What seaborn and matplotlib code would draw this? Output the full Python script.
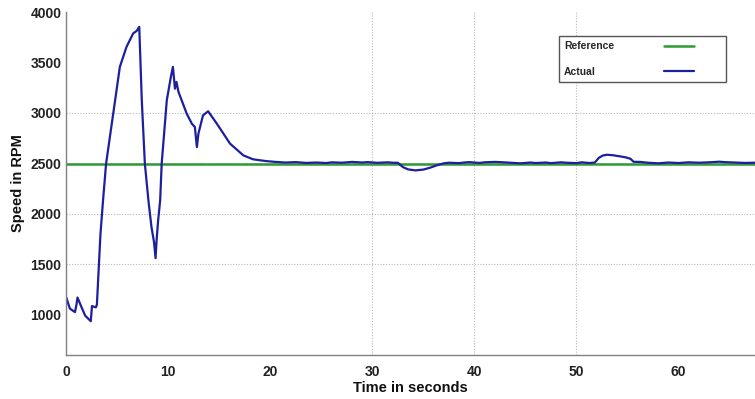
import pandas as pd
import seaborn as sns
from matplotlib import pyplot as plt

# speed response (time in s, speed in RPM)
t_actual = [0.0, 0.35, 0.85, 1.0, 1.1, 1.5, 1.85, 2.4, 2.52, 2.9, 3.0, 3.1, 3.2,
            3.35, 3.6, 3.9, 4.6, 5.25, 5.9, 6.55, 6.9, 7.15, 7.4, 7.7, 8.05, 8.35,
            8.6, 8.75, 8.85, 9.0, 9.2, 9.35, 9.85, 10.25, 10.45, 10.65, 10.8, 11.0,
            11.8, 12.3, 12.6, 12.8, 12.95, 13.4, 13.9, 14.75, 16.05, 17.35, 18.3,
            19.0, 19.6, 20.5, 21.5, 22.5, 23.5, 24.5, 25.5, 26.0, 27.0, 28.0, 29.0,
            29.5, 30.5, 31.5, 32.0, 32.5, 33.0, 33.5, 34.2, 35.0, 35.7, 36.3, 37.0,
            37.5, 38.5, 39.0, 39.5, 40.5, 41.0, 42.0, 42.5, 43.5, 44.5, 45.5, 46.0,
            47.0, 47.5, 48.5, 49.0, 50.0, 50.5, 51.3, 51.8, 52.2, 52.6, 53.0, 53.6,
            54.2, 54.8, 55.3, 55.6, 56.2, 57.0, 58.0, 59.0, 60.0, 61.0, 62.0, 63.0,
            64.0, 64.5, 65.5, 66.5, 67.5]
rpm_actual = [1170, 1060, 1025, 1100, 1170, 1072, 990, 935, 1085, 1072, 1100, 1300, 1500,
              1800, 2130, 2497, 2993, 3456, 3654, 3787, 3813, 3853, 3125, 2497, 2132, 1867,
              1718, 1560, 1735, 1933, 2132, 2497, 3125, 3357, 3456, 3240, 3307, 3207,
              2993, 2894, 2860, 2661, 2795, 2976, 3016, 2894, 2695, 2579, 2540,
              2530, 2522, 2514, 2508, 2512, 2504, 2508, 2503, 2510, 2506, 2514, 2508,
              2512, 2505, 2510, 2506, 2505, 2462, 2440, 2430, 2438, 2458, 2480, 2500,
              2506, 2502, 2508, 2512, 2504, 2510, 2514, 2512, 2506, 2500, 2508, 2503,
              2508, 2502, 2510, 2506, 2502, 2510, 2503, 2508, 2555, 2578, 2585, 2580,
              2570, 2560, 2545, 2515, 2514, 2506, 2500, 2508, 2503, 2510, 2506, 2510,
              2516, 2512, 2508, 2504, 2506]

t_reference = [0.0, 67.5]
rpm_reference = [2492, 2492]

x_ticks = [0, 10, 20, 30, 40, 50, 60]
y_ticks = [1000, 1500, 2000, 2500, 3000, 3500, 4000]
grid_x = [30, 40, 50]
grid_y = [1500, 2000, 2500, 3000]

sns.set_style("white")
plt.rcParams['font.family'] = ['Liberation Sans', 'DejaVu Sans']
plt.rcParams['xtick.direction'] = 'in'
plt.rcParams['ytick.direction'] = 'in'

fig = plt.figure(figsize=(7.55, 3.99), dpi=100)
ax = fig.add_axes([0.0878, 0.1103, 0.9122, 0.8596])

for gx in grid_x:
    ax.axvline(gx, color="#b8b8b8", linestyle=(0, (1, 1.5)), linewidth=0.8, zorder=0)
for gy in grid_y:
    ax.axhline(gy, color="#b8b8b8", linestyle=(0, (1, 1.5)), linewidth=0.8, zorder=0)

ref_df = pd.DataFrame({"t": t_reference, "rpm": rpm_reference})
act_df = pd.DataFrame({"t": t_actual, "rpm": rpm_actual})
sns.lineplot(data=ref_df, x="t", y="rpm", ax=ax, color="#2e9a35", linewidth=1.8,
             label="Reference", sort=False, estimator=None)
sns.lineplot(data=act_df, x="t", y="rpm", ax=ax, color="#1c1f9e", linewidth=1.6,
             label="Actual", sort=False, estimator=None)

ax.set_xlim(0, 67.5)
ax.set_ylim(600, 4000)
ax.set_xticks(x_ticks)
ax.set_yticks(y_ticks)
ax.tick_params(length=5, width=0.8, color="#808080", labelsize=10, labelcolor="#222222")
ax.tick_params(axis="x", pad=7)
for lab in ax.get_xticklabels() + ax.get_yticklabels():
    lab.set_fontweight("bold")
for side in ["top", "right"]:
    ax.spines[side].set_visible(False)
for side in ["left", "bottom"]:
    ax.spines[side].set_color("#808080")
    ax.spines[side].set_linewidth(1.0)

ax.set_xlabel("Time in seconds", fontsize=10.5, fontweight="bold", color="#111111", labelpad=2)
ax.set_ylabel("Speed in RPM", fontsize=10.5, fontweight="bold", color="#111111", labelpad=4)

leg = ax.legend(loc="upper left", bbox_to_anchor=(0.715, 0.799, 0.243, 0.131),
                mode="expand", borderaxespad=0, markerfirst=False, fancybox=False,
                framealpha=1, edgecolor="#555555", prop={"size": 7.5, "weight": "bold"},
                handlelength=2.9, labelspacing=1.5, borderpad=0.5)
leg.get_frame().set_linewidth(1.0)
# text on the left, line sample pushed to the right of each row
for col in leg._legend_handle_box.get_children():
    for row in col.get_children():
        row.mode = "expand"
        row.width = 130

fig.savefig("out.png", dpi=100)
